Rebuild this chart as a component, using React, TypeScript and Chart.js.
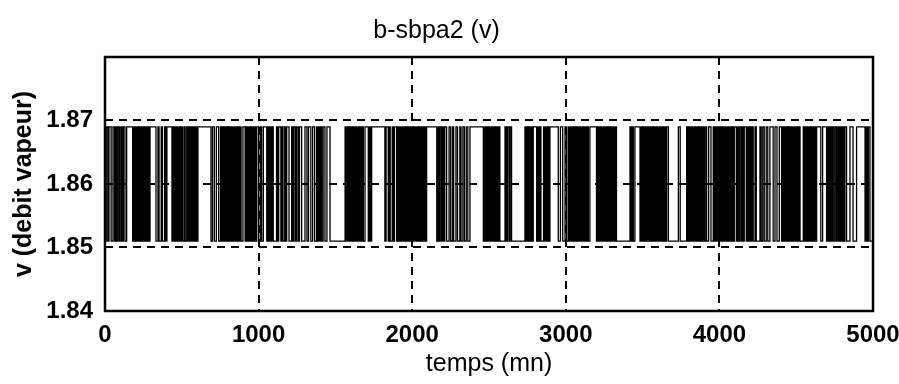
import React, { useEffect, useRef } from "react";
import { Chart, registerables } from "chart.js";

Chart.register(...registerables);

// ---- text ----
const titleText = "b-sbpa2 (v)";
const xAxisLabel = "temps (mn)";
const yAxisLabel = "v (debit vapeur)";

// ---- axes ----
const xMin = 0;
const xMax = 5000;
const yMin = 1.84;
const yMax = 1.88;
const xTicks = [0, 1000, 2000, 3000, 4000, 5000];
const yTicks = [1.84, 1.85, 1.86, 1.87, 1.88];
const yTickLabels = ["1.84", "1.85", "1.86", "1.87", ""];

// ---- binary PRBS signal (two levels) ----
const lowLevel = 1.851;
const highLevel = 1.869;
const startLevel = lowLevel;
// times (mn) at which the signal toggles between the two levels
const switchTimes = [
  8, 18, 26, 40, 52, 62, 70, 78, 86, 95, 104, 112, 120, 130, 141,
  180, 186, 192, 199, 205, 212, 218, 225, 232, 238, 245, 252, 258, 265, 272, 279, 286, 293,
  332, 345, 352, 366, 374, 388, 395, 403,
  436, 442, 449, 456, 462, 469, 476, 483, 490, 497, 504, 514,
  522, 532, 540,
  547, 553, 560, 567, 575, 582, 590, 597, 605,
  690, 700, 712, 725, 740, 752, 760, 767, 773, 780, 787, 794, 801, 808, 815, 822, 829, 836, 843, 850, 857, 864, 871, 878, 886,
  898, 912,
  918, 925, 932, 939, 946, 953, 960, 967, 974, 981, 988,
  1000, 1012, 1020, 1031,
  1053, 1060, 1067, 1074, 1081, 1088, 1095,
  1117, 1124, 1131, 1145, 1152, 1159, 1170, 1177, 1183,
  1198, 1215,
  1222, 1230, 1240, 1248, 1258, 1266, 1280,
  1302, 1315, 1325, 1340, 1352, 1365, 1378,
  1384, 1390, 1397, 1404, 1411, 1420,
  1432, 1445, 1465,
  1563, 1569, 1576, 1583, 1590, 1597, 1604, 1611, 1618, 1625, 1632, 1639, 1646, 1653, 1660, 1667, 1675, 1682, 1693,
  1714, 1722, 1730, 1736,
  1822, 1830, 1844,
  1850, 1857, 1870, 1877, 1884, 1898, 1905, 1912, 1919, 1926, 1933, 1940, 1947, 1953,
  1959, 1965, 1971, 1977, 1983, 1989, 1995, 2001, 2007, 2013, 2019, 2025, 2031, 2037, 2043, 2049, 2055, 2061, 2067, 2073, 2080, 2087, 2094,
  2160, 2167, 2174, 2181, 2190, 2197, 2204, 2212, 2224,
  2240, 2250, 2262, 2270, 2285, 2295, 2310, 2318, 2330, 2340, 2352, 2362, 2376,
  2463, 2469, 2475, 2481, 2487, 2493, 2499, 2505, 2511, 2517, 2523, 2529, 2535, 2541, 2547, 2553, 2559, 2565, 2571,
  2604, 2612, 2620, 2630, 2638, 2647,
  2734, 2740, 2747, 2754, 2761, 2768, 2775, 2782, 2788,
  2810, 2816, 2823, 2830, 2838, 2855, 2862, 2870, 2877, 2884, 2890, 2897,
  2951, 2965,
  2980, 2995, 3005, 3016,
  3022, 3028, 3035, 3042, 3049, 3056, 3063, 3070, 3077, 3084, 3091, 3098, 3105, 3112, 3119, 3126, 3133, 3140, 3147, 3157,
  3200, 3207, 3214, 3222, 3230, 3237, 3244,
  3250, 3256, 3262, 3268, 3274, 3280, 3286, 3292, 3298, 3304, 3310, 3316, 3322, 3330,
  3418, 3425, 3432, 3440, 3450,
  3483, 3489, 3495, 3501, 3507, 3513, 3519, 3525, 3531, 3537, 3543, 3549, 3555, 3561, 3567, 3573, 3579, 3585, 3591, 3597, 3603, 3609, 3615, 3621, 3627, 3633, 3639, 3645, 3651, 3657, 3668,
  3733, 3745,
  3787, 3795, 3802, 3810, 3818, 3826, 3833, 3840,
  3846, 3852, 3858, 3864, 3870, 3876, 3882, 3888, 3894, 3900, 3908, 3917,
  3930, 3945, 3960,
  3966, 3972, 3978, 3984, 3990, 3996, 4002, 4008, 4014, 4020, 4026, 4032, 4038, 4044, 4050, 4056, 4062, 4069,
  4075, 4082, 4090, 4097, 4110, 4117, 4124, 4131, 4140, 4147, 4155, 4162, 4175, 4182, 4189, 4196, 4204, 4212, 4220, 4232,
  4240,
  4264,
  4272, 4282, 4292, 4305, 4315, 4329,
  4350, 4362, 4375, 4390, 4405,
  4411, 4417, 4423, 4429, 4435, 4441, 4447, 4453, 4459, 4465, 4471, 4477, 4483, 4489, 4495, 4501, 4507, 4513, 4519, 4525,
  4546, 4552, 4558, 4564, 4570, 4576, 4582, 4588, 4594, 4600, 4606, 4612, 4618, 4625, 4633,
  4660, 4672, 4698,
  4704, 4712, 4720, 4728, 4736, 4745, 4754, 4763,
  4769, 4775, 4781, 4787, 4793, 4799, 4805, 4811, 4817, 4828,
  4850, 4870, 4893,
  4948, 4955, 4962, 4970, 4980,
];

function buildPoints() {
  const pts: { x: number; y: number }[] = [];
  let level = startLevel;
  pts.push({ x: xMin, y: level });
  for (const t of switchTimes) {
    level = level === lowLevel ? highLevel : lowLevel;
    pts.push({ x: t, y: level });
  }
  pts.push({ x: xMax, y: level });
  return pts;
}

const FONT = "'Liberation Sans', Arial, sans-serif";

const frameBox = {
  id: "frameBox",
  afterDatasetsDraw(chart: any) {
    const { ctx, chartArea } = chart;
    ctx.save();
    ctx.strokeStyle = "#000";
    ctx.lineWidth = 2.5;
    ctx.setLineDash([]);
    ctx.strokeRect(chartArea.left, chartArea.top, chartArea.right - chartArea.left, chartArea.bottom - chartArea.top);
    ctx.restore();
  },
};

export default function App() {
  const canvasRef = useRef<HTMLCanvasElement | null>(null);

  useEffect(() => {
    if (!canvasRef.current) return;
    const chart = new Chart(canvasRef.current, {
      type: "line",
      data: {
        datasets: [
          {
            data: buildPoints(),
            borderColor: "#000",
            borderWidth: 1.3,
            pointRadius: 0,
            stepped: true,
            fill: false,
            tension: 0,
          },
        ],
      },
      options: {
        animation: false,
        responsive: false,
        devicePixelRatio: 1,
        parsing: false,
        normalized: true,
        layout: { padding: { left: 0, right: 26, top: 0, bottom: 0 } },
        plugins: {
          legend: { display: false },
          tooltip: { enabled: false },
          title: {
            display: true,
            text: titleText,
            color: "#000",
            font: { family: FONT, size: 25, weight: "normal" },
            padding: { top: 16, bottom: 11 },
          },
        },
        scales: {
          x: {
            type: "linear",
            min: xMin,
            max: xMax,
            afterBuildTicks: (s: any) => {
              s.ticks = xTicks.map((v) => ({ value: v }));
            },
            afterFit: (s: any) => {
              s.height = 73;
              s.paddingLeft = 0;
              s.paddingRight = 0;
            },
            ticks: {
              autoSkip: false,
              maxRotation: 0,
              padding: 10,
              color: "#000",
              font: { family: FONT, size: 24, weight: "bold" },
              callback: (v: any) => String(v),
            },
            grid: {
              drawTicks: false,
              lineWidth: 2,
              color: (c: any) =>
                c.tick && (c.tick.value === xMin || c.tick.value === xMax) ? "rgba(0,0,0,0)" : "#000",
            },
            border: { display: false, dash: [8, 6] },
            title: {
              display: true,
              text: xAxisLabel,
              color: "#000",
              font: { family: FONT, size: 25, weight: "normal" },
              padding: { top: 0, bottom: 5 },
            },
          },
          y: {
            type: "linear",
            min: yMin,
            max: yMax,
            afterBuildTicks: (s: any) => {
              s.ticks = yTicks.map((v) => ({ value: v }));
            },
            afterFit: (s: any) => {
              s.width = 105;
              s.paddingTop = 0;
              s.paddingBottom = 0;
            },
            ticks: {
              autoSkip: false,
              padding: 12,
              color: "#000",
              font: { family: FONT, size: 24, weight: "bold" },
              callback: (v: any, i: number) => yTickLabels[i] ?? "",
            },
            grid: {
              drawTicks: false,
              lineWidth: 2,
              color: (c: any) =>
                c.tick && (Math.abs(c.tick.value - yMin) < 1e-9 || Math.abs(c.tick.value - yMax) < 1e-9)
                  ? "rgba(0,0,0,0)"
                  : "#000",
            },
            border: { display: false, dash: [8, 6] },
            title: {
              display: true,
              text: yAxisLabel,
              color: "#000",
              font: { family: FONT, size: 25, weight: "bold" },
              padding: { top: 9, bottom: 0 },
            },
          },
        },
      } as any,
      plugins: [frameBox],
    });
    return () => chart.destroy();
  }, []);

  return (
    <div style={{ position: "fixed", left: 0, top: 0, width: 899, height: 384, background: "#fff" }}>
      <canvas ref={canvasRef} width={899} height={384} style={{ display: "block", width: 899, height: 384 }} />
    </div>
  );
}
